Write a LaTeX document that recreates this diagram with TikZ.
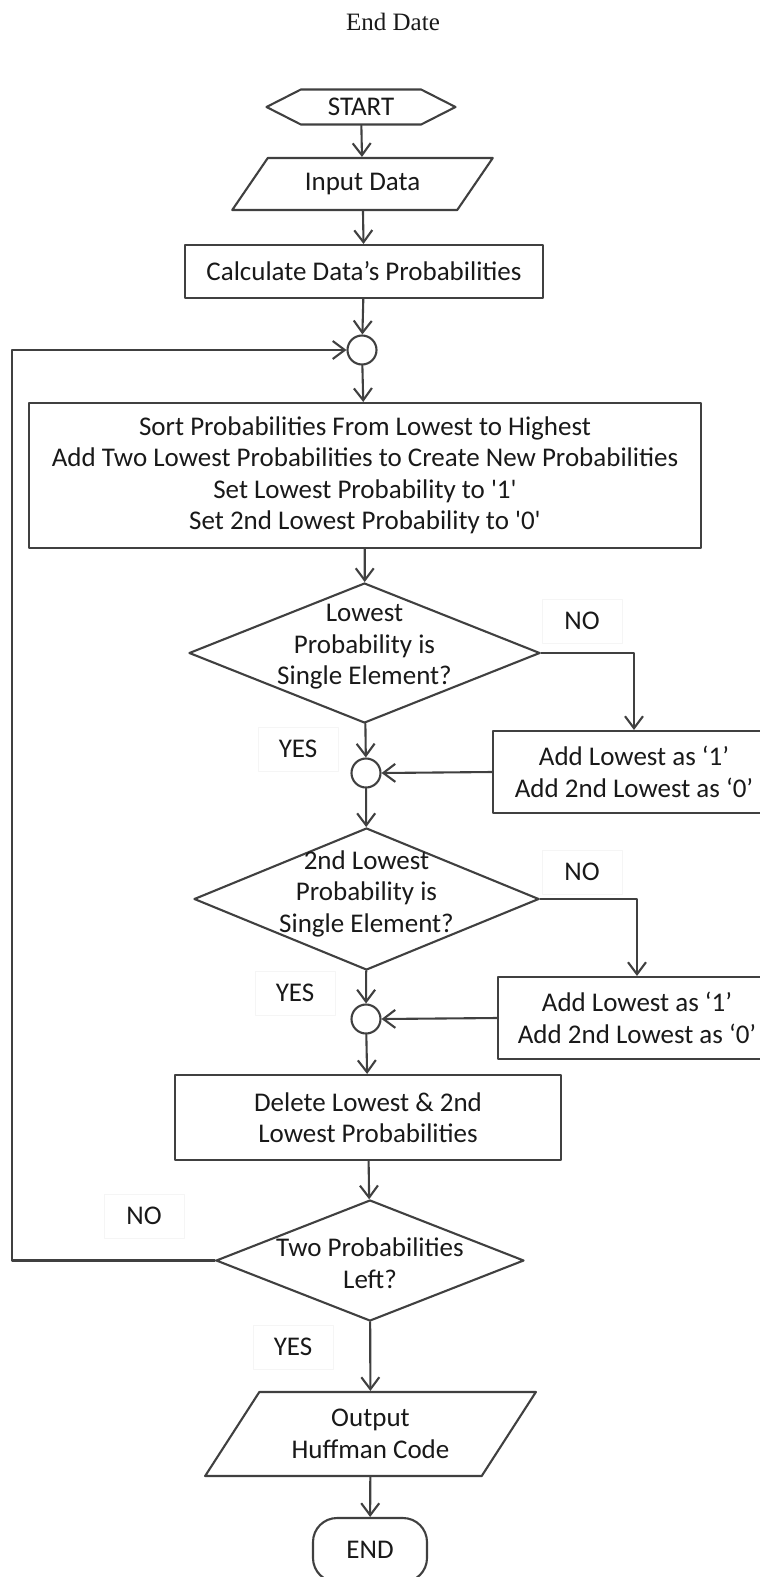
\documentclass[tikz,border=0pt]{standalone}
\usepackage{fontspec}
\setmainfont{Carlito}
\newfontfamily\titlefont{Liberation Serif}
\usetikzlibrary{shapes.geometric,shapes.symbols,arrows.meta}
\newcommand{\dtext}[2][0pt]{\makebox[0pt]{\smash{\raisebox{#1}{\begin{tabular}{@{}c@{}}#2\end{tabular}}}}}

\begin{document}
\begin{tikzpicture}[x=1pt,y=-1pt,>={Straight Barb[length=12pt,width=18pt]},line join=round,line cap=round]
	\tikzset{every node/.style={font=\fontsize{27}{31.5}\selectfont,text=black!90,inner sep=0pt}}
	\tikzset{flow/.style={draw=black!75,line width=2.1pt}}
	\tikzset{proc/.style={flow,rectangle,align=center}}
	\tikzset{io/.style={flow,trapezium,trapezium stretches=true,align=center}}
	\tikzset{decision/.style={flow,diamond}}
	\tikzset{joint/.style={flow,circle,minimum size=29pt}}
	\tikzset{answer/.style={draw=black!4,line width=0.6pt,minimum width=80pt,minimum height=44pt}}
	\tikzset{link/.style={->,draw=black!75,line width=2.1pt}}
	
	\useasboundingbox (0,0) rectangle (760,1577);
	
	% --- Tiêu đề ---
	\node (title) at (393,22) {\titlefont\fontsize{25}{29}\selectfont End Date};
	
	% --- Cột chính ---
	\node[flow,signal,signal to=west and east,signal pointer angle=54,minimum width=189pt,minimum height=35pt] (start) at (361,107) {START};
	\node[io,trapezium left angle=45,trapezium right angle=135,minimum width=261pt,minimum height=52pt] (input) at (362.5,184) {Input Data};
	\node[proc,minimum width=358pt,minimum height=53pt] (calc) at (364,271.5) {Calculate Data’s Probabilities};
	\node[joint] (c1) at (362,350) {};
	\node[proc,minimum width=672pt,minimum height=145pt] (sort) at (365,475.5) {Sort Probabilities From Lowest to Highest\\Add Two Lowest Probabilities to Create New Probabilities\\Set Lowest Probability to \textquotesingle 1\textquotesingle\\Set 2nd Lowest Probability to \textquotesingle 0\textquotesingle};
	\node[decision,minimum width=351pt,minimum height=140pt] (d1) at (364.5,653) {\dtext{Lowest\\Probability is\\Single Element?}};
	\node[joint] (c2) at (366,773) {};
	\node[decision,minimum width=345pt,minimum height=142pt] (d2) at (366.5,899) {\dtext[-1.5pt]{2nd Lowest\\Probability is\\Single Element?}};
	\node[joint] (c3) at (366,1019) {};
	\node[proc,minimum width=386pt,minimum height=85pt] (del) at (368,1117.5) {Delete Lowest \& 2nd\\Lowest Probabilities};
	\node[decision,minimum width=308pt,minimum height=121pt] (d3) at (370,1260.5) {\dtext[-12pt]{Two Probabilities\\Left?}};
	\node[io,trapezium left angle=52,trapezium right angle=128,minimum width=331pt,minimum height=84pt] (output) at (370.5,1434) {Output\\Huffman Code};
	\node[flow,rounded corners=24pt,minimum width=114pt,minimum height=64pt] (finish) at (370,1550) {END};
	
	% --- Nhánh phải ---
	\node[proc,minimum width=282pt,minimum height=82pt] (add1) at (634,772) {Add Lowest as ‘1’\\Add 2nd Lowest as ‘0’};
	\node[proc,minimum width=278pt,minimum height=82pt] (add2) at (637,1018) {Add Lowest as ‘1’\\Add 2nd Lowest as ‘0’};
	
	% --- Nhãn ---
	\node[answer] (no1) at (582,621) {NO};
	\node[answer] (yes1) at (298,749) {YES};
	\node[answer] (no2) at (582,872) {NO};
	\node[answer] (yes2) at (295,993) {YES};
	\node[answer] (no3) at (144,1216) {NO};
	\node[answer] (yes3) at (293,1347) {YES};
	\coordinate (loopx) at (12,0);
	
	% --- Mũi tên ---
	\draw[link] (start) -- (input);
	\draw[link] (input) -- (calc);
	\draw[link] (calc) -- (c1);
	\draw[link] (c1) -- (sort);
	\draw[link] (sort) -- (d1);
	\draw[link] (d1) -- (c2);
	\draw[link] (d1.east) -| (add1.north);
	\draw[link] (add1.west) -- (c2.east);
	\draw[link] (c2) -- (d2);
	\draw[link] (d2.east) -| (add2.north);
	\draw[link] (add2.west) -- (c3.east);
	\draw[link] (d2) -- (c3);
	\draw[link] (c3) -- (del);
	\draw[link] (del) -- (d3);
	\draw[link] (d3.west) -- (d3.west -| loopx) |- (c1.west);
	\draw[link] (d3) -- (output);
	\draw[link] (output) -- (finish);
\end{tikzpicture}
\end{document}
